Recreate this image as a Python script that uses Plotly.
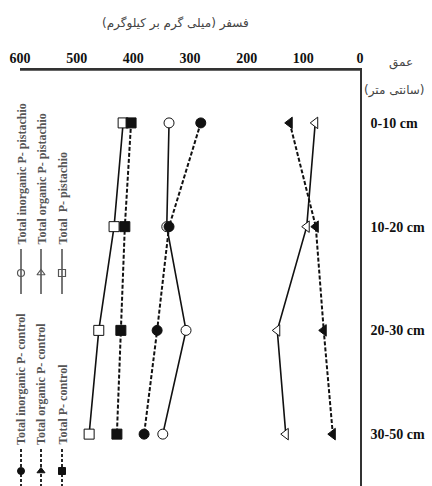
import plotly.graph_objects as go

depths = ["0-10 cm", "10-20 cm", "20-30 cm", "30-50 cm"]
depth_pos = [0, 1, 2, 3]
x_ticks = [600, 500, 400, 300, 200, 100, 0]

total_p_pistachio = [418, 434, 461, 478]
total_p_control = [404, 415, 422, 429]
inorg_p_pistachio = [337, 341, 307, 348]
inorg_p_control = [281, 337, 358, 381]
org_p_pistachio = [79, 94, 146, 131]
org_p_control = [124, 78, 64, 48]

legend_pist = ["Total inorganic P- pistachio", "Total organic P- pistachio", "Total  P- pistachio"]
legend_ctrl = ["Total inorganic P- control", "Total organic P- control", "Total P- control"]

x_title = "فسفر (میلی گرم بر کیلوگرم)"
y_title1 = "عمق"
y_title2 = "(سانتی متر)"

BLACK = "#111111"
GREY = "#555555"
DASH = "4px,2px"

W, H = 432, 486
L, R, T, B = 20, 72, 70, 0


def px(x):
    return (x - L) / (W - L - R)


def py(y):
    return (H - B - y) / (H - T - B)


fig = go.Figure()


def add(vals, symbol, filled, dashed):
    fig.add_trace(go.Scatter(
        x=vals, y=depth_pos, mode="lines+markers",
        line=dict(color=BLACK, width=2 if dashed else 1.6, dash=DASH if dashed else "solid"),
        marker=dict(symbol=symbol, size=10,
                    color=BLACK if filled else "white",
                    line=dict(color=BLACK, width=1)),
        showlegend=False, cliponaxis=False))


add(total_p_pistachio, "square", False, False)
add(total_p_control, "square", True, True)
add(inorg_p_pistachio, "circle", False, False)
add(inorg_p_control, "circle", True, True)
add(org_p_pistachio, "triangle-left", False, False)
add(org_p_control, "triangle-left", True, True)

# Legend (rotated), drawn on an overlay axis in pixel units
cols = [21, 41, 62]
pist_syms = ["circle", "triangle-up", "square"]
ctrl_syms = ["circle", "triangle-up", "square"]
shapes = [dict(type="line", xref="paper", yref="paper", x0=0, x1=1, y0=1, y1=1,
               line=dict(color="#333333", width=1.5))]
for cx, sym in zip(cols, pist_syms):
    shapes.append(dict(type="line", xref="paper", yref="paper", x0=px(cx), x1=px(cx),
                       y0=py(249), y1=py(294), line=dict(color=GREY, width=1.6)))
    fig.add_trace(go.Scatter(x=[cx], y=[273], mode="markers", xaxis="x2", yaxis="y2",
                             marker=dict(symbol=sym, size=7, color="white", line=dict(color=GREY, width=1.2)),
                             showlegend=False, cliponaxis=False))
for cx, sym in zip(cols, ctrl_syms):
    shapes.append(dict(type="line", xref="paper", yref="paper", x0=px(cx), x1=px(cx),
                       y0=py(449), y1=py(490), line=dict(color=BLACK, width=1.8, dash="3px,2px")))
    fig.add_trace(go.Scatter(x=[cx], y=[471], mode="markers", xaxis="x2", yaxis="y2",
                             marker=dict(symbol=sym, size=7, color=BLACK, line=dict(color=BLACK, width=1)),
                             showlegend=False, cliponaxis=False))

ann = []
for cx, t in zip(cols, legend_pist):
    ann.append(dict(x=px(cx), y=py(247), xref="paper", yref="paper", text=t, textangle=-90, showarrow=False,
                    xanchor="center", yanchor="bottom",
                    font=dict(family="Liberation Serif", size=12, color=GREY, weight="bold")))
for cx, t in zip(cols, legend_ctrl):
    ann.append(dict(x=px(cx), y=py(447), xref="paper", yref="paper", text=t, textangle=-90, showarrow=False,
                    xanchor="center", yanchor="bottom",
                    font=dict(family="Liberation Serif", size=12, color=GREY, weight="bold")))

ann.append(dict(x=px(175), y=py(23), xref="paper", yref="paper", text=x_title, showarrow=False,
                xanchor="center", yanchor="middle",
                font=dict(family="DejaVu Sans", size=12, color="#444444")))
ann.append(dict(x=px(401), y=py(63), xref="paper", yref="paper", text=y_title1, showarrow=False,
                xanchor="center", yanchor="middle",
                font=dict(family="DejaVu Sans", size=12, color="#444444")))
ann.append(dict(x=px(394), y=py(90), xref="paper", yref="paper", text=y_title2, showarrow=False,
                xanchor="center", yanchor="middle",
                font=dict(family="DejaVu Sans", size=12, color="#444444")))

fig.update_layout(
    width=W, height=H,
    margin=dict(l=L, r=R, t=T, b=B),
    paper_bgcolor="white", plot_bgcolor="white",
    annotations=ann,
    shapes=shapes,
    xaxis=dict(range=[600, 0], side="top", anchor="y", tickvals=x_ticks, ticktext=[str(v) for v in x_ticks],
               showgrid=False, zeroline=False, showline=True, linecolor="#333333", linewidth=1.5,
               ticks="", tickfont=dict(family="Liberation Serif", size=14, color="#111111", weight="bold")),
    yaxis=dict(range=[3.5, -0.51], side="right", tickvals=depth_pos, ticktext=depths,
               showgrid=False, zeroline=False, showline=True, linecolor="#333333", linewidth=1.5,
               ticks="", ticklabelstandoff=6,
               tickfont=dict(family="Liberation Serif", size=14, color="#111111", weight="bold")),
    xaxis2=dict(range=[L, W - R], overlaying="x", visible=False, fixedrange=True),
    yaxis2=dict(range=[H - B, T], overlaying="y", visible=False, fixedrange=True),
)

fig.write_html("out.html")
